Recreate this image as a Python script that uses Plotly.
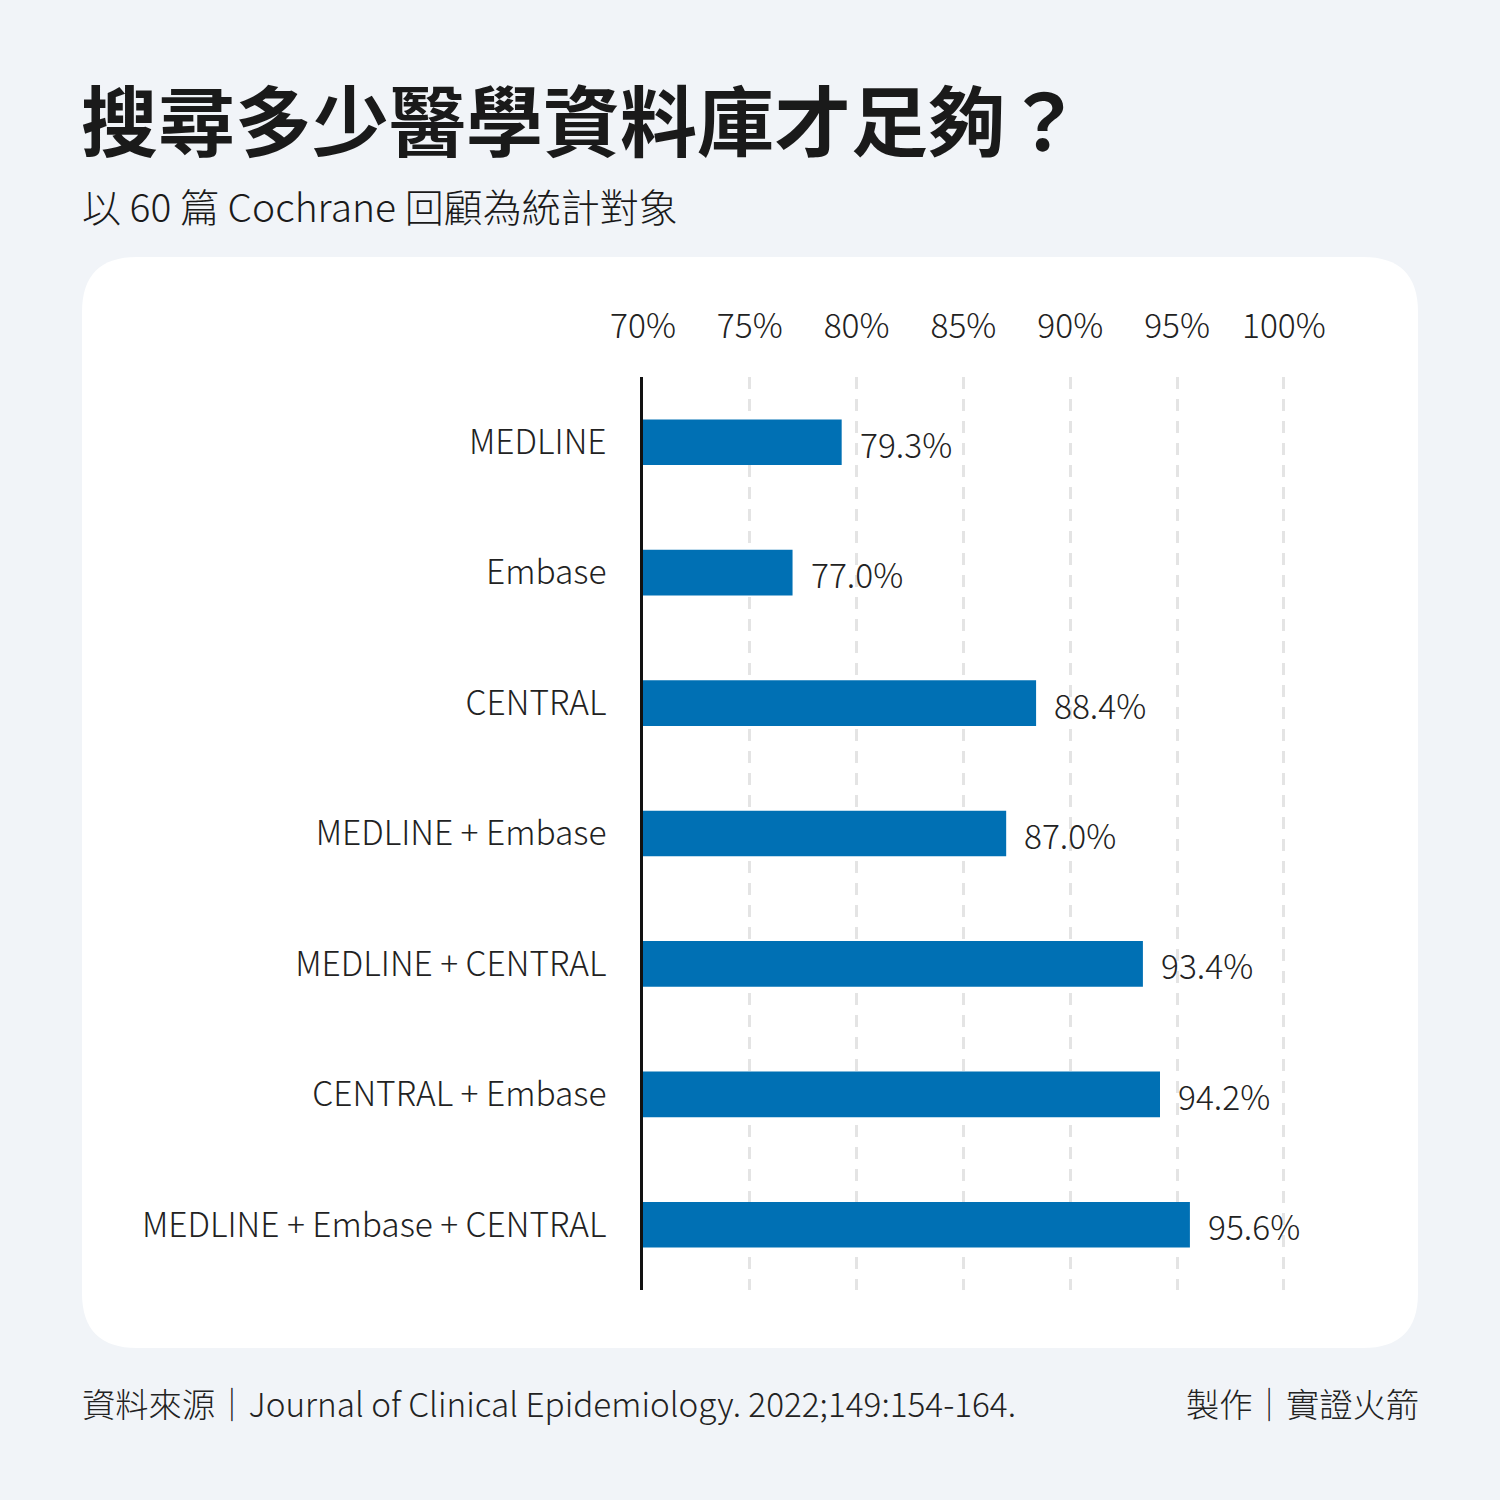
import plotly.graph_objects as go

categories = ["MEDLINE", "Embase", "CENTRAL", "MEDLINE + Embase",
              "MEDLINE + CENTRAL", "CENTRAL + Embase", "MEDLINE + Embase + CENTRAL"]
recall = [79.3, 77.0, 88.4, 87.0, 93.4, 94.2, 95.6]
tick_vals = [70, 75, 80, 85, 90, 95, 100]
tick_text = ["70%", "75%", "80%", "85%", "90%", "95%", "100%"]

title = "搜尋多少醫學資料庫才足夠？"
subtitle = "以 60 篇 Cochrane 回顧為統計對象"
source = "資料來源｜Journal of Clinical Epidemiology. 2022;149:154-164."
credit = "製作｜實證火箭"

FONT = "Noto Sans CJK TC"
W, H = 1500, 1500
L, R, T, B = 643, 152, 377, 210
pw, ph = W - L - R, H - T - B


def px(x):
    return (x - L) / pw


def py(y):
    return (H - B - y) / ph


# white card with rounded corners
x0, x1, y0, y1, rad = 82, 1418, 257, 1348, 55
card = (f"M {px(x0 + rad)},{py(y0)} L {px(x1 - rad)},{py(y0)} "
        f"Q {px(x1)},{py(y0)} {px(x1)},{py(y0 + rad)} "
        f"L {px(x1)},{py(y1 - rad)} Q {px(x1)},{py(y1)} {px(x1 - rad)},{py(y1)} "
        f"L {px(x0 + rad)},{py(y1)} Q {px(x0)},{py(y1)} {px(x0)},{py(y1 - rad)} "
        f"L {px(x0)},{py(y0 + rad)} Q {px(x0)},{py(y0)} {px(x0 + rad)},{py(y0)} Z")

fig = go.Figure(go.Bar(
    x=[v - 70 for v in recall], y=categories, orientation="h", base=70,
    marker=dict(color="#0070b4", line=dict(width=0)),
    width=0.35, hoverinfo="skip",
))

for c, v in zip(categories, recall):
    fig.add_annotation(x=v, y=c, text=f"{v:.1f}%", showarrow=False,
                       xanchor="left", xshift=16, yshift=-1,
                       font=dict(family=FONT, size=33.5, color="#222222", weight=300))

fig.add_annotation(xref="paper", yref="paper", x=px(79), y=py(117), text=f"<b>{title}</b>",
                   showarrow=False, xanchor="left", yanchor="middle",
                   font=dict(family=FONT, size=77, color="#1a1a1a"))
fig.add_annotation(xref="paper", yref="paper", x=px(80), y=py(205), text=subtitle,
                   showarrow=False, xanchor="left", yanchor="middle",
                   font=dict(family=FONT, size=39, color="#1a1a1a", weight=300))
fig.add_annotation(xref="paper", yref="paper", x=px(80), y=py(1402), text=source,
                   showarrow=False, xanchor="left", yanchor="middle",
                   font=dict(family=FONT, size=33.3, color="#222222", weight=300))
fig.add_annotation(xref="paper", yref="paper", x=px(1421), y=py(1402), text=credit,
                   showarrow=False, xanchor="right", yanchor="middle",
                   font=dict(family=FONT, size=33.3, color="#222222", weight=300))

fig.update_layout(
    width=W, height=H,
    margin=dict(l=L, r=R, t=T, b=B),
    paper_bgcolor="#f1f4f8", plot_bgcolor="rgba(0,0,0,0)",
    showlegend=False,
    shapes=[dict(type="path", xref="paper", yref="paper", path=card,
                 fillcolor="white", line=dict(width=0), layer="below")],
    xaxis=dict(range=[70, 103], side="top", tickvals=tick_vals, ticktext=tick_text,
               showgrid=True, gridcolor="#e4e4e4", gridwidth=3, griddash="12px,10px",
               zeroline=False, ticks="", ticklabelstandoff=31,
               tickfont=dict(family=FONT, size=33.5, color="#222222", weight=300)),
    yaxis=dict(autorange="reversed", showline=True, linecolor="#111111", linewidth=2.5,
               ticks="", ticklabelstandoff=27, showgrid=False,
               tickfont=dict(family=FONT, size=33.5, color="#222222", weight=300)),
)

# drop the default page margin so the figure sits at the window corner
fig.write_html("out.html", config={"displayModeBar": False},
               post_script="document.body.style.margin='0';")
